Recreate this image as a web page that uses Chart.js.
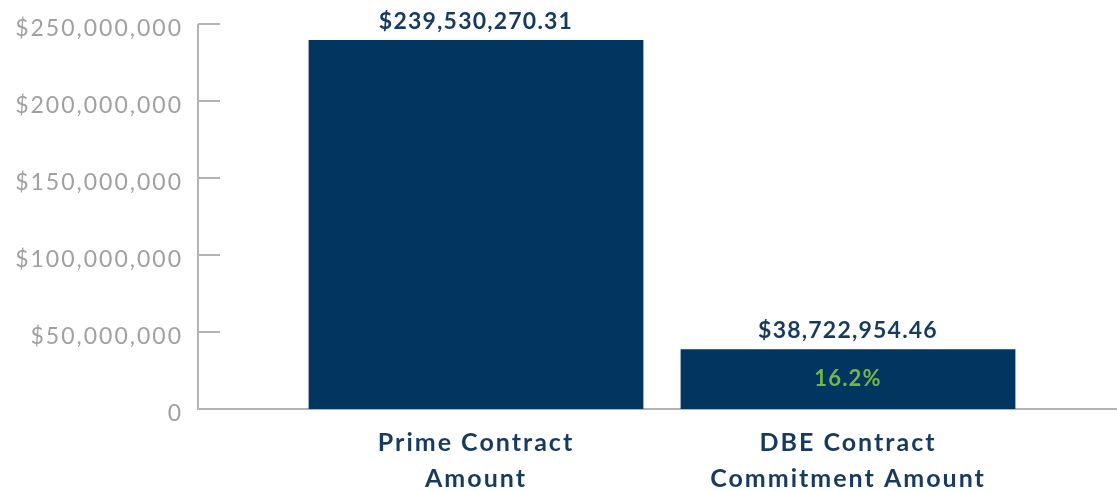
<!DOCTYPE html>
<html>
<head>
<meta charset="utf-8">
<script src="https://cdn.jsdelivr.net/npm/chart.js@4/dist/chart.umd.min.js"></script>
<style>
  html, body { margin: 0; padding: 0; background: #ffffff; }
  canvas { display: block; }
</style>
</head>
<body>
<canvas id="contractChart" width="1117" height="491"></canvas>
<script>
// Data
const categories = [["Prime Contract", "Amount"], ["DBE Contract", "Commitment Amount"]];
const amounts = [239530270.31, 38722954.46];
const amountLabels = ["$239,530,270.31", "$38,722,954.46"];
const shareLabels = ["", "16.2%"];
const yTickValues = [0, 50000000, 100000000, 150000000, 200000000, 250000000];

const navy = "#02355f";
const labelNavy = "#173b5f";
const green = "#74b843";
const axisGray = "#b3b3b3";

// Axis line with inward ticks, plus the long baseline
const axisPlugin = {
    id: "axisLines",
    beforeDraw(chart) {
        // wide tracking for the axis text
        chart.ctx.letterSpacing = "2px";
    },
    beforeDatasetsDraw(chart) {
        const ctx = chart.ctx;
        const y = chart.scales.y;
        const axisX = 198;
        const top = y.getPixelForValue(yTickValues[yTickValues.length - 1]);
        const bottom = y.getPixelForValue(0);
        ctx.save();
        ctx.strokeStyle = axisGray;
        ctx.lineWidth = 2;
        ctx.beginPath();
        ctx.moveTo(axisX, top);
        ctx.lineTo(axisX, bottom);
        ctx.lineTo(chart.width, bottom);
        yTickValues.forEach(v => {
            if (v === 0) return;
            const py = y.getPixelForValue(v);
            ctx.moveTo(axisX, py);
            ctx.lineTo(axisX + 22, py);
        });
        ctx.stroke();
        ctx.restore();
    },
    afterDatasetsDraw(chart) {
        const ctx = chart.ctx;
        const bars = chart.getDatasetMeta(0).data;
        ctx.save();
        ctx.textAlign = "center";
        ctx.textBaseline = "middle";
        bars.forEach((bar, i) => {
            ctx.letterSpacing = "1.2px";
            ctx.font = "bold 23px Lato";
            ctx.fillStyle = labelNavy;
            ctx.fillText(amountLabels[i], bar.x, bar.y - 19);
            if (shareLabels[i]) {
                ctx.font = "bold 22px Lato";
                ctx.fillStyle = green;
                ctx.fillText(shareLabels[i], bar.x, (bar.y + bar.base) / 2);
            }
        });
        ctx.restore();
    }
};

new Chart(document.getElementById("contractChart"), {
    type: "bar",
    data: {
        labels: categories,
        datasets: [{
            data: amounts,
            backgroundColor: navy,
            borderWidth: 0,
            categoryPercentage: 1,
            barPercentage: 0.9
        }]
    },
    plugins: [axisPlugin],
    options: {
        responsive: false,
        devicePixelRatio: 1,
        animation: false,
        layout: { padding: { top: 24, right: 83, left: 0, bottom: 0 } },
        plugins: {
            legend: { display: false },
            tooltip: { enabled: false }
        },
        scales: {
            x: {
                grid: { display: false, drawTicks: false },
                border: { display: false },
                ticks: {
                    color: labelNavy,
                    padding: 16,
                    maxRotation: 0,
                    font: { family: "Lato", weight: "bold", size: 25, lineHeight: 1.45 }
                },
                afterFit: s => { s.height = 82; s.paddingLeft = 0; s.paddingRight = 0; }
            },
            y: {
                min: 0,
                max: 250000000,
                grid: { display: false, drawTicks: false },
                border: { display: false },
                afterBuildTicks: s => { s.ticks = yTickValues.map(v => ({ value: v })); },
                ticks: {
                    color: "#a0a0a0",
                    padding: 107,
                    labelOffset: 5,
                    font: { family: "Lato", weight: "normal", size: 23 },
                    callback: v => v === 0 ? "0" : "$" + v.toLocaleString("en-US")
                },
                afterFit: s => { s.width = 290; s.paddingTop = 0; s.paddingBottom = 0; }
            }
        }
    }
});
</script>
</body>
</html>
